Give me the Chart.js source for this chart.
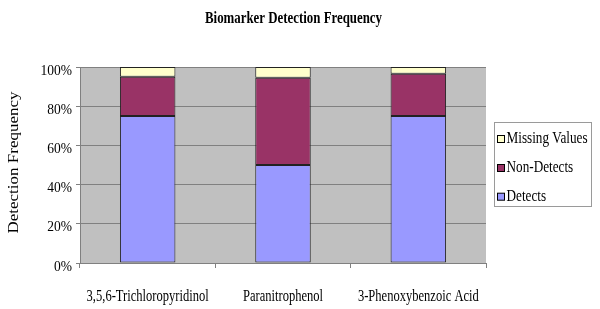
<!DOCTYPE html>
<html>
<head>
<meta charset="utf-8">
<script src="https://cdn.jsdelivr.net/npm/chart.js@4.4.1/dist/chart.umd.min.js"></script>
<style>
  html, body { margin: 0; padding: 0; background: #ffffff; }
  #wrap { width: 600px; height: 309px; }
</style>
</head>
<body>
<div id="wrap"><canvas id="c" width="600" height="309"></canvas></div>
<script>
const chartTitle = 'Biomarker Detection Frequency';
const yAxisTitle = 'Detection Frequency';
const categories = ['3,5,6-Trichloropyridinol', 'Paranitrophenol', '3-Phenoxybenzoic Acid'];
const seriesNames = ['Detects', 'Non-Detects', 'Missing Values'];
const detects = [75, 50, 75];
const nonDetects = [20, 44.5, 21.5];
const missingValues = [5, 5.5, 3.5];
const yTicks = [0, 20, 40, 60, 80, 100];

const colors = ['#9999FF', '#993366', '#FFFFCC'];
const serif = '"Liberation Serif", "Times New Roman", serif';

function drawText(ctx, str, x, y, font, sx, align) {
  ctx.save();
  ctx.translate(x, y);
  ctx.scale(sx, 1);
  ctx.font = font;
  ctx.textAlign = align;
  ctx.textBaseline = 'alphabetic';
  ctx.fillStyle = '#000';
  ctx.fillText(str, 0, 0);
  ctx.restore();
}

const decorPlugin = {
  id: 'decor',
  beforeDraw(chart) {
    const { ctx, chartArea: a } = chart;
    ctx.save();
    ctx.fillStyle = '#C0C0C0';
    ctx.fillRect(a.left, a.top, a.right - a.left, a.bottom - a.top);
    ctx.restore();
  },
  afterDraw(chart) {
    const { ctx } = chart;
    const xs = chart.scales.x, ys = chart.scales.y;
    // Title
    drawText(ctx, chartTitle, 293.5, 23.3, 'bold 16.5px ' + serif, 0.78, 'center');
    // Y axis title (rotated)
    ctx.save();
    ctx.translate(17.5, 162.5);
    ctx.rotate(-Math.PI / 2);
    ctx.scale(1, 0.9);
    ctx.font = '17px ' + serif;
    ctx.textAlign = 'center';
    ctx.textBaseline = 'alphabetic';
    ctx.fillStyle = '#000';
    ctx.fillText(yAxisTitle, 0, 0);
    ctx.restore();
    // Y tick labels
    ys.ticks.forEach((t, i) => {
      const y = ys.getPixelForTick(i);
      drawText(ctx, t.label, 72, y + 7.5, '15px ' + serif, 0.9, 'right');
    });
    // X category labels
    xs.ticks.forEach((t, i) => {
      const x = xs.getPixelForTick(i);
      drawText(ctx, t.label, x, 301, '16.5px ' + serif, 0.76, 'center');
    });
    // Legend
    ctx.save();
    ctx.strokeStyle = '#9a9a9a';
    ctx.lineWidth = 1;
    ctx.strokeRect(494.5, 122.5, 97, 84);
    ctx.restore();
    const ds = chart.data.datasets;
    const baselines = [143, 172, 200.7];
    for (let i = 0; i < ds.length; i++) {
      const d = ds[ds.length - 1 - i];
      const b = baselines[i];
      ctx.save();
      ctx.fillStyle = d.backgroundColor;
      ctx.fillRect(497.5, b - 7.5, 7, 7);
      ctx.strokeStyle = '#000';
      ctx.lineWidth = 1;
      ctx.strokeRect(497.5, b - 7.5, 7, 7);
      ctx.restore();
      drawText(ctx, d.label, 506.5, b, '16.5px ' + serif, 0.8, 'left');
    }
  }
};

const datasets = [detects, nonDetects, missingValues].map((vals, i) => ({
  label: seriesNames[i],
  data: vals,
  backgroundColor: colors[i],
  borderColor: '#222',
  borderWidth: 1,
  borderSkipped: false,
  barPercentage: 0.41,
  categoryPercentage: 1.0
}));

new Chart(document.getElementById('c'), {
  type: 'bar',
  data: { labels: categories, datasets },
  plugins: [decorPlugin],
  options: {
    responsive: false,
    animation: false,
    devicePixelRatio: 1,
    layout: { padding: { left: 0, top: 67, right: 114, bottom: 0 } },
    plugins: {
      legend: { display: false },
      title: { display: false },
      tooltip: { enabled: false }
    },
    scales: {
      x: {
        stacked: true,
        grid: { drawOnChartArea: false, drawTicks: true, tickLength: 5, color: '#808080', offset: true },
        border: { color: '#808080', width: 1 },
        ticks: { display: false, autoSkip: false },
        afterFit(s) { s.height = 46; }
      },
      y: {
        stacked: true,
        min: 0,
        max: 100,
        afterBuildTicks(s) { s.ticks = yTicks.map(v => ({ value: v })); },
        grid: { color: '#808080', tickLength: 4, lineWidth: 1 },
        border: { color: '#808080', width: 1 },
        ticks: { display: false, callback: v => v + '%' },
        afterFit(s) { s.width = 80; }
      }
    }
  }
});
</script>
</body>
</html>
